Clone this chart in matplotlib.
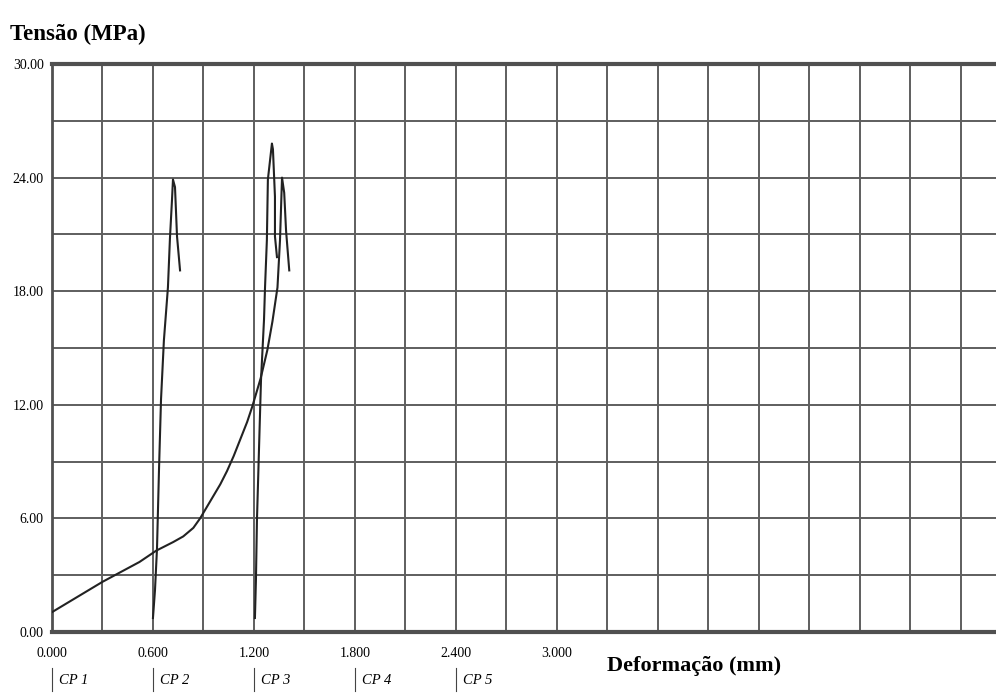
import matplotlib.pyplot as plt
import numpy as np

plt.rcParams['font.family'] = ['Liberation Serif', 'DejaVu Serif']

# curves (deformation mm, stress MPa)
cp1_x = [0.00, 0.30, 0.52, 0.62, 0.72, 0.78, 0.84, 0.88, 0.92, 0.96, 1.00, 1.04, 1.08, 1.12, 1.16, 1.19,
         1.24, 1.28, 1.31, 1.34, 1.355, 1.367, 1.38, 1.391, 1.41]
cp1_y = [1.05, 2.65, 3.7, 4.3, 4.75, 5.05, 5.5, 6.0, 6.6, 7.2, 7.8, 8.5, 9.3, 10.2, 11.1, 11.9,
         13.4, 14.9, 16.4, 18.2, 20.7, 24.0, 23.2, 21.2, 19.1]

cp2_x = [0.600, 0.612, 0.624, 0.636, 0.648, 0.665, 0.689, 0.701, 0.713, 0.719, 0.731, 0.743, 0.761]
cp2_y = [0.74, 2.2, 4.4, 8.6, 12.3, 15.4, 18.2, 20.8, 22.8, 23.9, 23.5, 20.9, 19.1]

cp3_x = [1.206, 1.212, 1.218, 1.230, 1.242, 1.260, 1.266, 1.277, 1.283, 1.307, 1.313, 1.325, 1.325, 1.337]
cp3_y = [0.74, 2.75, 5.9, 9.6, 13.3, 16.5, 18.2, 20.7, 23.9, 25.8, 25.5, 23.0, 20.9, 19.8]

x_ticks = [0.0, 0.6, 1.2, 1.8, 2.4, 3.0]
x_labels = ["0.000", "0.600", "1.200", "1.800", "2.400", "3.000"]
y_ticks = [0, 6, 12, 18, 24, 30]
y_labels = ["0.00", "6.00", "12.00", "18.00", "24.00", "30.00"]
cp_names = ["CP 1", "CP 2", "CP 3", "CP 4", "CP 5"]
cp_pos = [0.0, 0.6, 1.2, 1.8, 2.4]

fig = plt.figure(figsize=(9.96, 6.93), dpi=100)
ax = fig.add_axes([0.0522, 0.088, 0.9478, 0.8196])

grid_col = '#5e5e5e'
for gx in np.arange(0.3, 5.7, 0.3):
    ax.axvline(gx, color=grid_col, lw=1.4, zorder=1)
for gy in np.arange(3, 30, 3):
    ax.axhline(gy, color=grid_col, lw=1.4, zorder=1)

for xs, ys in [(cp1_x, cp1_y), (cp2_x, cp2_y), (cp3_x, cp3_y)]:
    ax.plot(xs, ys, color='#222222', lw=1.5, zorder=3)

ax.set_xlim(0, 5.61)
ax.set_ylim(0, 30)
ax.set_xticks(x_ticks)
ax.set_xticklabels(x_labels)
ax.set_yticks(y_ticks)
ax.set_yticklabels(y_labels)
ax.tick_params(length=0, labelsize=10)
ax.tick_params(axis='x', pad=11)
ax.tick_params(axis='y', pad=6)

ax.spines['right'].set_visible(False)
ax.spines['top'].set_linewidth(3)
ax.spines['bottom'].set_linewidth(3)
ax.spines['left'].set_linewidth(2)
for s in ['top', 'bottom', 'left']:
    ax.spines[s].set_color('#505050')

fig.text(0.010, 0.942, "Tensão (MPa)", fontsize=16.5, fontweight='bold')
fig.text(0.609, 0.032, "Deformação (mm)", fontsize=16, fontweight='bold')

# specimen labels under the axis
for name, pos in zip(cp_names, cp_pos):
    ax.plot([pos, pos], [-0.063, -0.103], transform=ax.get_xaxis_transform(),
            color='#444444', lw=0.8, clip_on=False)
    ax.text(pos + 0.04, -0.086, name, transform=ax.get_xaxis_transform(),
            fontsize=10.5, style='italic', va='center', ha='left')

fig.savefig("out.png", dpi=100)
